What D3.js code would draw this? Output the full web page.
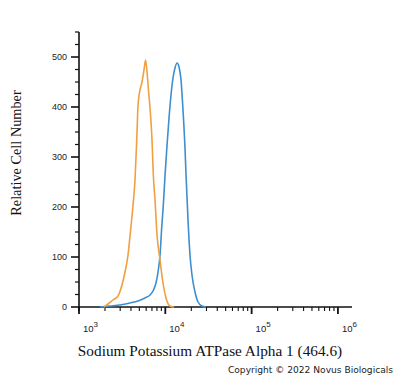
<!DOCTYPE html>
<html>
<head>
<meta charset="utf-8">
<script src="https://cdn.jsdelivr.net/npm/d3@7/dist/d3.min.js"></script>
<style>
  html, body { margin: 0; padding: 0; background: #ffffff; }
  svg { display: block; }
</style>
</head>
<body>
<svg id="chart" width="400" height="378"></svg>
<script>
// ---- data (log10 of fluorescence intensity, cell count) ----
const orangeLog = [3.290, 3.336, 3.394, 3.452, 3.498, 3.533, 3.568, 3.591, 3.626, 3.649, 3.669, 3.684, 3.707, 3.730, 3.753, 3.771, 3.788, 3.805, 3.829, 3.846, 3.861, 3.881, 3.904, 3.939, 3.973, 4.008, 4.054, 4.101];
const orangeCount = [0, 6, 14, 22, 44, 70, 104, 142, 204, 254, 334, 404, 434, 450, 474, 494, 470, 434, 384, 334, 264, 214, 144, 94, 48, 18, 2, 0];
const blueLog = [3.243, 3.359, 3.475, 3.591, 3.684, 3.765, 3.823, 3.857, 3.892, 3.919, 3.939, 3.958, 3.977, 3.997, 4.020, 4.043, 4.066, 4.089, 4.112, 4.136, 4.159, 4.182, 4.205, 4.229, 4.240, 4.263, 4.286, 4.309, 4.344, 4.379, 4.425, 4.472];
const blueCount = [0, 2, 4, 8, 12, 18, 24, 32, 48, 74, 104, 158, 204, 264, 324, 378, 424, 458, 478, 488, 480, 454, 394, 314, 264, 174, 104, 64, 30, 10, 2, 0];
const yTicks = [0, 100, 200, 300, 400, 500];
const xDecades = [3, 4, 5, 6];
const xTitle = "Sodium Potassium ATPase Alpha 1 (464.6)";
const yTitle = "Relative Cell Number";
const copyright = "Copyright \u00A9 2022 Novus Biologicals";

// ---- layout ----
const svg = d3.select("#chart");
const x = d3.scaleLog().domain([1e3, Math.pow(10, 6.163)]).range([79, 352]);
const y = d3.scaleLinear().domain([0, 550]).range([307, 32]);

const axisColor = "#111";

// Y axis
const yG = svg.append("g").attr("transform", "translate(79,0)");
yG.append("line").attr("x1", 0).attr("x2", 0).attr("y1", y(550)).attr("y2", 311)
  .attr("stroke", axisColor).attr("stroke-width", 1.6);
const yMinor = d3.range(0, 551, 25).filter(v => v % 100 !== 0);
yG.selectAll("line.minor").data(yMinor).join("line").attr("class", "minor")
  .attr("x1", -4).attr("x2", 0).attr("y1", d => y(d)).attr("y2", d => y(d))
  .attr("stroke", axisColor).attr("stroke-width", 1.2);
yG.selectAll("line.major").data(yTicks).join("line").attr("class", "major")
  .attr("x1", -8).attr("x2", 0).attr("y1", d => y(d)).attr("y2", d => y(d))
  .attr("stroke", axisColor).attr("stroke-width", 1.6);
yG.selectAll("text").data(yTicks).join("text")
  .attr("x", -12).attr("y", d => y(d)).attr("dy", "0.35em")
  .attr("text-anchor", "end")
  .attr("font-family", "Liberation Sans, Arial, sans-serif").attr("font-size", 9)
  .attr("fill", "#222").text(d => d);

// X axis
const xG = svg.append("g").attr("transform", "translate(0,307)");
xG.append("line").attr("x1", 78).attr("x2", 352).attr("y1", 0).attr("y2", 0)
  .attr("stroke", axisColor).attr("stroke-width", 1.6);
const xMinor = [];
[3, 4, 5, 6].forEach(e => { for (let k = 2; k <= 9; k++) { const v = k * Math.pow(10, e); if (v <= x.domain()[1]) xMinor.push(v); } });
xG.selectAll("line.minor").data(xMinor).join("line").attr("class", "minor")
  .attr("x1", d => x(d)).attr("x2", d => x(d)).attr("y1", 0).attr("y2", 4)
  .attr("stroke", axisColor).attr("stroke-width", 1.1);
xG.selectAll("line.major").data(xDecades).join("line").attr("class", "major")
  .attr("x1", d => x(Math.pow(10, d))).attr("x2", d => x(Math.pow(10, d)))
  .attr("y1", 0).attr("y2", 7)
  .attr("stroke", axisColor).attr("stroke-width", 1.8);
const lbl = xG.selectAll("text").data(xDecades).join("text")
  .attr("x", d => x(Math.pow(10, d)) + 4).attr("y", 25)
  .attr("font-family", "Liberation Sans, Arial, sans-serif").attr("font-size", 9.5)
  .attr("fill", "#222");
lbl.append("tspan").text("10");
lbl.append("tspan").attr("dy", -5).attr("font-size", 8).text(d => d);

// curves
const line = d3.line().x(d => x(Math.pow(10, d[0]))).y(d => y(d[1])).curve(d3.curveMonotoneX);
const orangeData = orangeLog.map((v, i) => [v, orangeCount[i]]);
const blueData = blueLog.map((v, i) => [v, blueCount[i]]);
svg.append("path").datum(blueData).attr("d", line)
  .attr("fill", "none").attr("stroke", "#3d8fd0").attr("stroke-width", 1.6);
svg.append("path").datum(orangeData).attr("d", line)
  .attr("fill", "none").attr("stroke", "#f0a040").attr("stroke-width", 1.6);

// titles
svg.append("text").attr("transform", "translate(21,153) rotate(-90)")
  .attr("text-anchor", "middle")
  .attr("font-family", "Liberation Serif, Times New Roman, serif").attr("font-size", 14.3)
  .attr("fill", "#111").text(yTitle);
svg.append("text").attr("x", 210).attr("y", 356)
  .attr("text-anchor", "middle")
  .attr("font-family", "Liberation Serif, Times New Roman, serif").attr("font-size", 15.3)
  .attr("fill", "#111").text(xTitle);
svg.append("text").attr("x", 393).attr("y", 373)
  .attr("text-anchor", "end")
  .attr("font-family", "DejaVu Sans, Verdana, sans-serif").attr("font-size", 9.1)
  .attr("fill", "#222").text(copyright);
</script>
</body>
</html>
